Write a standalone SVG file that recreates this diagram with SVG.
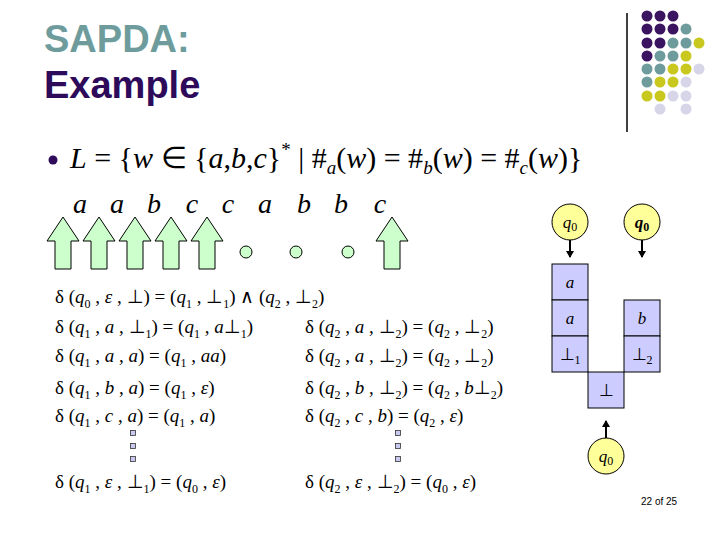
<svg xmlns="http://www.w3.org/2000/svg" width="720" height="540" viewBox="0 0 720 540">
<style>
.title{font-family:"Liberation Sans",Arial,sans-serif;font-weight:bold;font-size:38px}
.m{font-family:"Liberation Serif","Times New Roman",serif;font-size:19px;fill:#000}
.big{font-family:"Liberation Serif","Times New Roman",serif;font-size:28px;fill:#000}
.it{font-style:italic}
.sub{font-size:12px}
.arrow{fill:#CCFFCC;stroke:#000;stroke-width:1}
.dotc{fill:#CCFFCC;stroke:#000;stroke-width:1}
.st{fill:#CCCCFF;stroke:#000;stroke-width:1}
.q{fill:#FFFF99;stroke:#000;stroke-width:1}
.lbl{font-family:"Liberation Serif","Times New Roman",serif;font-size:17px;text-anchor:middle}
.sq{fill:#C8C8F0;stroke:#333;stroke-width:0.8}
.pu{fill:#3A1460}.te{fill:#6E9C9C}.ye{fill:#C8C81E}.la{fill:#D6D6E8}
</style>
<defs>
<marker id="ah" markerWidth="8" markerHeight="8" refX="6" refY="4" orient="auto" markerUnits="userSpaceOnUse">
<path d="M0,0 L7,4 L0,8 z" fill="#000"/>
</marker>
</defs>
<rect width="720" height="540" fill="#fff"/>
<g id="title">
<text class="title" x="44" y="52" fill="#6E9C9C">SAPDA:</text>
<text class="title" x="44" y="98" fill="#2E0B5A">Example</text>
</g>
<g id="decor">
<line x1="627" y1="13" x2="627" y2="132" stroke="#000" stroke-width="1.5"/>
<g>
<circle class="pu" cx="647" cy="16" r="5.5"/><circle class="pu" cx="660" cy="16" r="5.5"/><circle class="pu" cx="673" cy="16" r="5.5"/>
<circle class="pu" cx="647" cy="29" r="5.5"/><circle class="pu" cx="660" cy="29" r="5.5"/><circle class="pu" cx="673" cy="29" r="5.5"/><circle class="te" cx="686" cy="29" r="5.5"/>
<circle class="pu" cx="647" cy="43" r="5.5"/><circle class="pu" cx="660" cy="43" r="5.5"/><circle class="te" cx="673" cy="43" r="5.5"/><circle class="te" cx="686" cy="43" r="5.5"/><circle class="ye" cx="699" cy="43" r="5.5"/>
<circle class="pu" cx="647" cy="56" r="5.5"/><circle class="te" cx="660" cy="56" r="5.5"/><circle class="te" cx="673" cy="56" r="5.5"/><circle class="ye" cx="686" cy="56" r="5.5"/>
<circle class="te" cx="647" cy="69" r="5.5"/><circle class="te" cx="660" cy="69" r="5.5"/><circle class="ye" cx="673" cy="69" r="5.5"/><circle class="ye" cx="686" cy="69" r="5.5"/><circle class="la" cx="699" cy="69" r="5.5"/>
<circle class="te" cx="647" cy="82" r="5.5"/><circle class="ye" cx="660" cy="82" r="5.5"/><circle class="ye" cx="673" cy="82" r="5.5"/><circle class="la" cx="686" cy="82" r="5.5"/>
<circle class="ye" cx="647" cy="96" r="5.5"/><circle class="ye" cx="660" cy="96" r="5.5"/><circle class="la" cx="673" cy="96" r="5.5"/><circle class="la" cx="686" cy="96" r="5.5"/>
<circle class="la" cx="660" cy="109" r="5.5"/><circle class="la" cx="686" cy="109" r="5.5"/>
</g>
</g>
<g id="language">
<circle cx="53" cy="160" r="4.5" fill="#2E0B5A"/>
<text class="big" x="70" y="168" font-size="30" style="font-size:30px"><tspan class="it">L</tspan> = {<tspan class="it">w</tspan> ∈ {<tspan class="it">a</tspan>,<tspan class="it">b</tspan>,<tspan class="it">c</tspan>}<tspan style="font-size:19px" dy="-12">*</tspan><tspan dy="12"> | #</tspan><tspan class="it" style="font-size:19px" dy="6">a</tspan><tspan dy="-6">(</tspan><tspan class="it">w</tspan>) = #<tspan class="it" style="font-size:19px" dy="6">b</tspan><tspan dy="-6">(</tspan><tspan class="it">w</tspan>) = #<tspan class="it" style="font-size:19px" dy="6">c</tspan><tspan dy="-6">(</tspan><tspan class="it">w</tspan>)}</text>
</g>
<g id="word">
<g class="big it" text-anchor="middle">
<text x="80" y="213">a</text><text x="117" y="213">a</text><text x="154" y="213">b</text><text x="192" y="213">c</text><text x="228" y="213">c</text><text x="265" y="213">a</text><text x="304" y="213">b</text><text x="341" y="213">b</text><text x="380" y="213">c</text>
</g>
<g id="arrows">
<polygon class="arrow" points="63,217 79,241 71,241 71,269 55,269 55,241 47,241"/>
<polygon class="arrow" points="99,217 115,241 107,241 107,269 91,269 91,241 83,241"/>
<polygon class="arrow" points="135,217 151,241 143,241 143,269 127,269 127,241 119,241"/>
<polygon class="arrow" points="171,217 187,241 179,241 179,269 163,269 163,241 155,241"/>
<polygon class="arrow" points="207,217 223,241 215,241 215,269 199,269 199,241 191,241"/>
<polygon class="arrow" points="392,217 408,241 400,241 400,269 384,269 384,241 376,241"/>
</g>
<circle class="dotc" cx="246" cy="252" r="6"/>
<circle class="dotc" cx="296" cy="252" r="6"/>
<circle class="dotc" cx="348" cy="252" r="6"/>
</g>
<g id="transitions" class="m">
<text x="55" y="303">δ (<tspan class="it">q</tspan><tspan class="sub" dy="5">0</tspan><tspan dy="-5"> , </tspan><tspan class="it">ε</tspan> , ⊥) = (<tspan class="it">q</tspan><tspan class="sub" dy="5">1</tspan><tspan dy="-5"> , ⊥</tspan><tspan class="sub" dy="5">1</tspan><tspan dy="-5">) ∧ (</tspan><tspan class="it">q</tspan><tspan class="sub" dy="5">2</tspan><tspan dy="-5"> , ⊥</tspan><tspan class="sub" dy="5">2</tspan><tspan dy="-5">)</tspan></text>
<text x="55" y="333">δ (<tspan class="it">q</tspan><tspan class="sub" dy="5">1</tspan><tspan dy="-5"> , </tspan><tspan class="it">a</tspan> , ⊥<tspan class="sub" dy="5">1</tspan><tspan dy="-5">) = (</tspan><tspan class="it">q</tspan><tspan class="sub" dy="5">1</tspan><tspan dy="-5"> , </tspan><tspan class="it">a</tspan>⊥<tspan class="sub" dy="5">1</tspan><tspan dy="-5">)</tspan></text>
<text x="55" y="362">δ (<tspan class="it">q</tspan><tspan class="sub" dy="5">1</tspan><tspan dy="-5"> , </tspan><tspan class="it">a</tspan> , <tspan class="it">a</tspan>) = (<tspan class="it">q</tspan><tspan class="sub" dy="5">1</tspan><tspan dy="-5"> , </tspan><tspan class="it">aa</tspan>)</text>
<text x="55" y="394">δ (<tspan class="it">q</tspan><tspan class="sub" dy="5">1</tspan><tspan dy="-5"> , </tspan><tspan class="it">b</tspan> , <tspan class="it">a</tspan>) = (<tspan class="it">q</tspan><tspan class="sub" dy="5">1</tspan><tspan dy="-5"> , </tspan><tspan class="it">ε</tspan>)</text>
<text x="55" y="422">δ (<tspan class="it">q</tspan><tspan class="sub" dy="5">1</tspan><tspan dy="-5"> , </tspan><tspan class="it">c</tspan> , <tspan class="it">a</tspan>) = (<tspan class="it">q</tspan><tspan class="sub" dy="5">1</tspan><tspan dy="-5"> , </tspan><tspan class="it">a</tspan>)</text>
<text x="55" y="488">δ (<tspan class="it">q</tspan><tspan class="sub" dy="5">1</tspan><tspan dy="-5"> , </tspan><tspan class="it">ε</tspan> , ⊥<tspan class="sub" dy="5">1</tspan><tspan dy="-5">) = (</tspan><tspan class="it">q</tspan><tspan class="sub" dy="5">0</tspan><tspan dy="-5"> , </tspan><tspan class="it">ε</tspan>)</text>
<text x="305" y="333">δ (<tspan class="it">q</tspan><tspan class="sub" dy="5">2</tspan><tspan dy="-5"> , </tspan><tspan class="it">a</tspan> , ⊥<tspan class="sub" dy="5">2</tspan><tspan dy="-5">) = (</tspan><tspan class="it">q</tspan><tspan class="sub" dy="5">2</tspan><tspan dy="-5"> , ⊥</tspan><tspan class="sub" dy="5">2</tspan><tspan dy="-5">)</tspan></text>
<text x="305" y="362">δ (<tspan class="it">q</tspan><tspan class="sub" dy="5">2</tspan><tspan dy="-5"> , </tspan><tspan class="it">a</tspan> , ⊥<tspan class="sub" dy="5">2</tspan><tspan dy="-5">) = (</tspan><tspan class="it">q</tspan><tspan class="sub" dy="5">2</tspan><tspan dy="-5"> , ⊥</tspan><tspan class="sub" dy="5">2</tspan><tspan dy="-5">)</tspan></text>
<text x="305" y="394">δ (<tspan class="it">q</tspan><tspan class="sub" dy="5">2</tspan><tspan dy="-5"> , </tspan><tspan class="it">b</tspan> , ⊥<tspan class="sub" dy="5">2</tspan><tspan dy="-5">) = (</tspan><tspan class="it">q</tspan><tspan class="sub" dy="5">2</tspan><tspan dy="-5"> , </tspan><tspan class="it">b</tspan>⊥<tspan class="sub" dy="5">2</tspan><tspan dy="-5">)</tspan></text>
<text x="305" y="422">δ (<tspan class="it">q</tspan><tspan class="sub" dy="5">2</tspan><tspan dy="-5"> , </tspan><tspan class="it">c</tspan> , <tspan class="it">b</tspan>) = (<tspan class="it">q</tspan><tspan class="sub" dy="5">2</tspan><tspan dy="-5"> , </tspan><tspan class="it">ε</tspan>)</text>
<text x="305" y="488">δ (<tspan class="it">q</tspan><tspan class="sub" dy="5">2</tspan><tspan dy="-5"> , </tspan><tspan class="it">ε</tspan> , ⊥<tspan class="sub" dy="5">2</tspan><tspan dy="-5">) = (</tspan><tspan class="it">q</tspan><tspan class="sub" dy="5">0</tspan><tspan dy="-5"> , </tspan><tspan class="it">ε</tspan>)</text>
</g>
<g id="ellipsis">
<rect class="sq" x="130.5" y="430.5" width="5" height="5"/>
<rect class="sq" x="130.5" y="443.5" width="5" height="5"/>
<rect class="sq" x="130.5" y="456.5" width="5" height="5"/>
<rect class="sq" x="395.5" y="430.5" width="5" height="5"/>
<rect class="sq" x="395.5" y="443.5" width="5" height="5"/>
<rect class="sq" x="395.5" y="456.5" width="5" height="5"/>
</g>
<g id="stack1">
<rect class="st" x="552" y="264" width="36" height="36"/>
<rect class="st" x="552" y="300" width="36" height="36"/>
<rect class="st" x="552" y="336" width="36" height="36"/>
<text class="lbl it" x="570" y="288">a</text>
<text class="lbl it" x="570" y="324">a</text>
<text class="lbl" x="570" y="360">⊥<tspan class="sub" dy="4">1</tspan></text>
</g>
<g id="stack2">
<rect class="st" x="624" y="300" width="36" height="36"/>
<rect class="st" x="624" y="336" width="36" height="36"/>
<text class="lbl it" x="642" y="324">b</text>
<text class="lbl" x="642" y="360">⊥<tspan class="sub" dy="4">2</tspan></text>
</g>
<g id="stack0">
<rect class="st" x="588" y="372" width="36" height="36"/>
<text class="lbl" x="606" y="396">⊥</text>
</g>
<g id="state1">
<circle class="q" cx="570" cy="222" r="18"/>
<text class="lbl" x="570" y="228"><tspan class="it">q</tspan><tspan class="sub" dy="3">0</tspan></text>
</g>
<g id="state2">
<circle class="q" cx="642" cy="222" r="18"/>
<text class="lbl" x="642" y="228" font-weight="bold"><tspan class="it">q</tspan><tspan class="sub" dy="3">0</tspan></text>
</g>
<g id="state0">
<circle class="q" cx="606" cy="456" r="18"/>
<text class="lbl" x="606" y="462"><tspan class="it">q</tspan><tspan class="sub" dy="3">0</tspan></text>
</g>
<g id="connectors" stroke="#000" stroke-width="2">
<line x1="570" y1="240" x2="570" y2="257" marker-end="url(#ah)"/>
<line x1="642" y1="240" x2="642" y2="257" marker-end="url(#ah)"/>
<line x1="606" y1="438" x2="606" y2="421" marker-end="url(#ah)"/>
</g>
<text x="641" y="505" font-family="Liberation Sans,Arial,sans-serif" font-size="10" fill="#000">22 of 25</text>
</svg>
